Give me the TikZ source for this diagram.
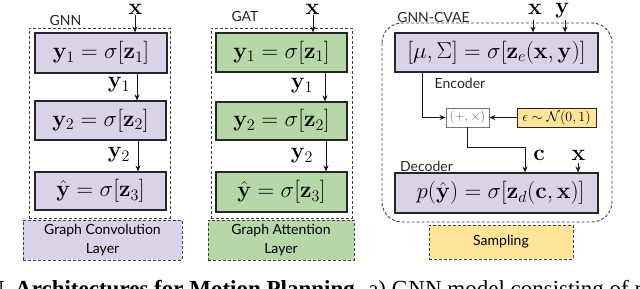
\RequirePackage{fix-cm}
\documentclass[tikz,border=0pt]{standalone}
\usepackage{amsmath}
\usepackage[no-math]{fontspec}
\newfontfamily\labfont{Lato}
\newfontfamily\capfont{Liberation Serif}
\usetikzlibrary{arrows.meta,calc}
\definecolor{lav}{HTML}{D9D2E9}
\definecolor{grn}{HTML}{B6D7A8}
\definecolor{ylw}{HTML}{FFE599}
\tikzset{
  blk/.style={draw=black!85, line width=1.1pt, inner sep=0pt, font=\fontsize{23}{27}\selectfont},
  outerbox/.style={draw=black!75, line width=0.9pt, dash pattern=on 3pt off 2pt, inner sep=0pt},
  laybox/.style={draw=black!75, line width=0.9pt, dash pattern=on 3pt off 2pt, inner sep=0pt, align=center, font=\labfont\fontsize{14}{19}\selectfont},
  lab/.style={inner sep=0pt, font=\labfont\fontsize{14}{16}\selectfont, text=black!85},
  var/.style={inner sep=0pt, font=\fontsize{23}{27}\selectfont},
  arr/.style={draw=black!90, line width=0.9pt, -{Stealth[length=6pt,width=5pt]}},
  captxt/.style={inner sep=0pt, font=\capfont\fontsize{23}{27}\selectfont},
}
\begin{document}
\begin{tikzpicture}[x=1pt,y=-1pt]
\path[use as bounding box] (0,0) rectangle (640,289);
\clip (0,0) rectangle (640,289);
% ---------- Panel 1: GNN ----------
\node[outerbox, minimum width=141pt, minimum height=190pt] (o1) at (99.5,123) {};
\node[blk, fill=lav, minimum width=132pt, minimum height=40pt] (b11) at (101,53) {$\mathbf{y}_1 = \sigma[\mathbf{z}_1]$};
\node[blk, fill=lav, minimum width=131pt, minimum height=39pt] (b12) at (100.5,120.5) {$\mathbf{y}_2 = \sigma[\mathbf{z}_2]$};
\node[blk, fill=lav, minimum width=131pt, minimum height=38pt] (b13) at (100.5,191) {$\hat{\mathbf{y}} = \sigma[\mathbf{z}_3]$};
\node[laybox, fill=lav, minimum width=159pt, minimum height=40pt] (l1) at (102.5,240) {Graph Convolution\\Layer};
\node[lab] (t1) at (65.5,20) {GNN};
\node[var] (x1) at (135.5,9.5) {$\mathbf{x}$};
\node[var] (y11) at (119,85) {$\mathbf{y}_1$};
\node[var] (y12) at (119,155) {$\mathbf{y}_2$};
\coordinate (p1a) at (135,0);
\coordinate (p1b) at (137,0);
\coordinate (p1c) at (138,0);
\draw[arr] (x1.south -| p1a) -- (p1a |- b11.north);
\draw[arr] (p1b |- b11.south) -- (p1b |- b12.north);
\draw[arr] (p1c |- b12.south) -- (p1c |- b13.north);
% ---------- Panel 2: GAT ----------
\node[outerbox, minimum width=141pt, minimum height=190pt] (o2) at (281.5,123) {};
\node[blk, fill=grn, minimum width=131pt, minimum height=39pt] (b21) at (281.5,52.5) {$\mathbf{y}_1 = \sigma[\mathbf{z}_1]$};
\node[blk, fill=grn, minimum width=131pt, minimum height=38pt] (b22) at (281.5,121) {$\mathbf{y}_2 = \sigma[\mathbf{z}_2]$};
\node[blk, fill=grn, minimum width=131pt, minimum height=40pt] (b23) at (281.5,192) {$\hat{\mathbf{y}} = \sigma[\mathbf{z}_3]$};
\node[laybox, fill=grn, minimum width=146pt, minimum height=40pt] (l2) at (281,240) {Graph Attention\\Layer};
\node[lab] (t2) at (245,16) {GAT};
\node[var] (x2) at (312.5,9.5) {$\mathbf{x}$};
\node[var] (y21) at (302,86) {$\mathbf{y}_1$};
\node[var] (y22) at (302,156) {$\mathbf{y}_2$};
\coordinate (p2a) at (313,0);
\coordinate (p2b) at (325,0);
\coordinate (p2c) at (326,0);
\draw[arr] (x2.south -| p2a) -- (p2a |- b21.north);
\draw[arr] (p2b |- b21.south) -- (p2b |- b22.north);
\draw[arr] (p2c |- b22.south) -- (p2c |- b23.north);
% ---------- Panel 3: GNN-CVAE ----------
\draw[outerbox, rounded corners=20pt] (382,23) rectangle (612,222);
\node[blk, fill=lav, minimum width=203pt, minimum height=39pt] (enc) at (496.5,52.5) {$[\mu,\Sigma] = \sigma[\mathbf{z}_e(\mathbf{x},\mathbf{y})]$};
\node[blk, fill=lav, minimum width=203pt, minimum height=40pt] (dec) at (496.5,193) {\hspace{8pt}$p(\hat{\mathbf{y}}) = \sigma[\mathbf{z}_d(\mathbf{c},\mathbf{x})]$};
\node[lab] (t3) at (433.5,17) {GNN-CVAE};
\node[lab] (te) at (460,83) {Encoder};
\node[lab] (td) at (426.5,166) {Decoder};
\node[draw=black!55, line width=0.9pt, fill=white, inner sep=0pt, minimum width=43pt, minimum height=19pt, font=\fontsize{13}{15}\selectfont, text=black!60] (pm) at (467.5,117.5) {$(+,\times)$};
\node[draw=black!85, line width=0.9pt, fill=ylw, inner sep=0pt, minimum width=79pt, minimum height=19pt, font=\fontsize{14}{16}\selectfont] (eps) at (556.5,117.5) {$\epsilon \sim \mathcal{N}(0,1)$};
\node[outerbox, fill=ylw, minimum width=144pt, minimum height=34pt, font=\labfont\fontsize{14}{16}\selectfont] (samp) at (501,242) {Sampling};
\node[var] (x3) at (535,9.5) {$\mathbf{x}$};
\node[var] (y3) at (562.5,10.5) {$\mathbf{y}$};
\node[var] (c3) at (539,155) {$\mathbf{c}$};
\node[var] (x4) at (578.5,155) {$\mathbf{x}$};
\coordinate (q1) at (533,20);
\coordinate (q2) at (565,20);
\coordinate (q3) at (422,0);
\coordinate (q4) at (525,147);
\coordinate (q5) at (578,163);
\draw[arr] (q1) -- (q1 |- enc.north);
\draw[arr] (q2) -- (q2 |- enc.north);
\draw[arr] (q3 |- enc.south) |- (pm.west);
\draw[arr] (eps.west) -- (pm.east);
\draw[arr] (pm.south) |- (q4) -- (q4 |- dec.north);
\draw[arr] (q5) -- (q5 |- dec.north);
% ---------- caption (cut off) ----------
\node[captxt, anchor=base east] (capn) at (4.5,296) {\textbf{N}};
\node[captxt, anchor=base west] (cap) at (15,296) {\textbf{Architectures for Motion Planning.} a) GNN model consisting of m};
\end{tikzpicture}
\end{document}
